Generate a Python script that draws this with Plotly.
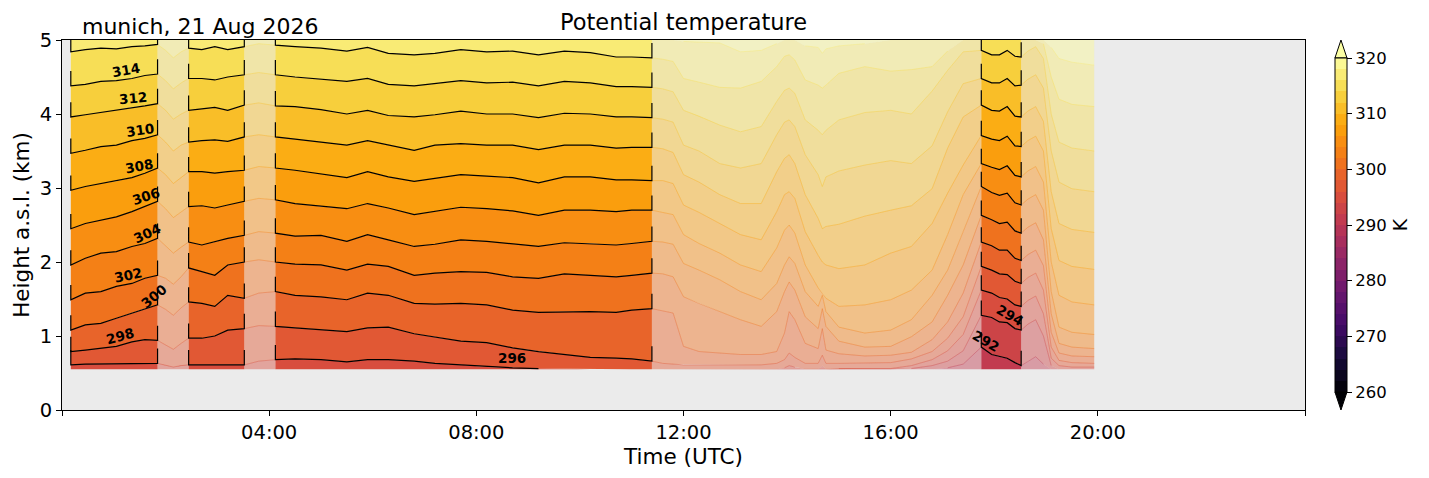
import numpy as np
import plotly.graph_objects as go

# hours (UTC) of the profiles
TIMES = [
    0.17, 0.45, 0.75, 1.05, 1.35, 1.6, 1.845,
    2.0, 2.15, 2.3,
    2.445, 2.7, 2.95, 3.2, 3.52,
    3.8,
    4.12, 4.5, 5.0, 5.5, 5.9, 6.3, 6.8, 7.2, 7.7, 8.2, 8.7, 9.2, 9.7, 10.2, 10.7, 11.0, 11.39,
    11.6, 11.8, 12.0, 12.3, 12.7, 13.1, 13.5, 13.8, 13.95, 14.04, 14.15, 14.35, 14.6, 14.68, 14.75,
    15.0, 15.5, 16.0, 16.4, 16.8, 17.1, 17.4,
    17.75, 17.95, 18.1, 18.25, 18.4, 18.52,
    18.65, 18.8, 18.95, 19.1, 19.25, 19.5, 19.93,
]

# (start, end, good quality) - bad periods are drawn faded
QUALITY = [
    (0.17, 1.845, True), (1.845, 2.445, False), (2.445, 3.52, True), (3.52, 4.12, False),
    (4.12, 11.39, True), (11.39, 17.75, False), (17.75, 18.52, True), (18.52, 19.93, False),
]

# height (km a.s.l.) of each isentrope, clipped to the retrieval range 0.55 - 5 km
ISEN_318 = [
    5.0, 5.0, 5.0, 5.0, 5.0, 5.0, 5.0,
    5.0, 5.0, 5.0,
    5.0, 5.0, 5.0, 5.0, 5.0,
    5.0,
    5.0, 5.0, 5.0, 5.0, 5.0, 5.0, 5.0, 5.0, 5.0, 5.0, 5.0, 5.0, 5.0, 5.0, 5.0, 5.0, 5.0,
    5.0, 5.0, 4.98, 4.97, 4.96, 4.84, 4.86, 4.95, 5.0, 5.0, 5.0, 4.92, 4.90, 4.82, 4.88,
    4.92, 4.95, 5.0, 5.0, 5.0, 5.0, 5.0,
    5.0, 5.0, 5.0, 5.0, 5.0, 5.0,
    5.0, 5.0, 5.0, 4.9, 4.75, 4.7, 4.66,
]
ISEN_316 = [
    4.84, 4.87, 4.89, 4.88, 4.91, 4.92, 4.94,
    4.86, 4.76, 4.84,
    4.89, 4.87, 4.91, 4.87, 4.91,
    4.95,
    4.93, 4.91, 4.89, 4.85, 4.90, 4.82, 4.80, 4.82, 4.87, 4.84, 4.85, 4.80, 4.85, 4.83, 4.77, 4.77, 4.76,
    4.74, 4.71, 4.48, 4.43, 4.36, 4.35, 4.44, 4.64, 4.78, 4.80, 4.73, 4.46, 4.39, 4.35, 4.39,
    4.55, 4.64, 4.58, 4.60, 4.64, 4.85, 5.0,
    5.0, 5.0, 5.0, 5.0, 5.0, 5.0,
    5.0, 5.0, 4.95, 4.5, 4.2, 4.13, 4.10,
]
ISEN_314 = [
    4.38, 4.40, 4.44, 4.45, 4.48, 4.52, 4.54,
    4.45, 4.34, 4.42,
    4.48, 4.48, 4.46, 4.50, 4.53,
    4.56,
    4.53, 4.50, 4.47, 4.44, 4.48, 4.40, 4.38, 4.41, 4.45, 4.42, 4.43, 4.38, 4.44, 4.42, 4.37, 4.37, 4.36,
    4.34, 4.30, 4.05, 3.97, 3.85, 3.76, 3.83, 4.17, 4.32, 4.35, 4.28, 3.92, 3.78, 3.72, 3.78,
    3.92, 4.02, 4.05, 4.00, 4.31, 4.59, 4.84,
    4.86, 4.80, 4.80, 4.86, 4.78, 4.77,
    4.85, 4.91, 4.75, 4.00, 3.62, 3.54, 3.50,
]
ISEN_312 = [
    3.96, 3.99, 4.02, 4.05, 4.09, 4.11, 4.14,
    4.05, 3.93, 4.00,
    4.05, 4.07, 4.09, 4.05, 4.12,
    4.15,
    4.11, 4.10, 4.06, 4.00, 4.05, 3.98, 3.96, 3.99, 4.04, 4.00, 4.00, 3.95, 4.01, 4.00, 3.96, 3.96, 3.95,
    3.93, 3.89, 3.58, 3.50, 3.33, 3.27, 3.33, 3.72, 3.89, 3.92, 3.83, 3.45, 3.18, 3.02, 3.15,
    3.23, 3.31, 3.37, 3.33, 3.57, 4.03, 4.41,
    4.48, 4.42, 4.42, 4.48, 4.38, 4.39,
    4.47, 4.53, 4.35, 3.50, 3.08, 2.99, 2.95,
]
ISEN_310 = [
    3.47, 3.51, 3.56, 3.58, 3.64, 3.67, 3.72,
    3.62, 3.50, 3.58,
    3.62, 3.64, 3.65, 3.63, 3.69,
    3.72,
    3.69, 3.66, 3.62, 3.58, 3.64, 3.58, 3.51, 3.58, 3.60, 3.58, 3.58, 3.52, 3.58, 3.58, 3.54, 3.55, 3.55,
    3.53, 3.48, 3.18, 3.08, 2.91, 2.79, 2.79, 3.22, 3.40, 3.45, 3.33, 2.91, 2.59, 2.45, 2.48,
    2.51, 2.62, 2.70, 2.76, 2.99, 3.54, 3.96,
    4.12, 4.05, 4.04, 4.10, 3.97, 3.96,
    4.04, 4.10, 3.90, 2.95, 2.52, 2.44, 2.40,
]
ISEN_308 = [
    2.97, 3.02, 3.06, 3.09, 3.14, 3.20, 3.27,
    3.18, 3.06, 3.14,
    3.22, 3.22, 3.20, 3.22, 3.24,
    3.29,
    3.27, 3.24, 3.19, 3.14, 3.22, 3.15, 3.09, 3.13, 3.18, 3.16, 3.14, 3.07, 3.15, 3.15, 3.11, 3.11, 3.10,
    3.10, 3.06, 2.77, 2.67, 2.52, 2.37, 2.30, 2.68, 2.91, 2.95, 2.86, 2.41, 2.09, 2.00, 1.96,
    1.91, 1.96, 2.12, 2.21, 2.52, 2.93, 3.31,
    3.71, 3.66, 3.64, 3.70, 3.57, 3.56,
    3.64, 3.70, 3.50, 2.45, 2.02, 1.94, 1.90,
]
ISEN_306 = [
    2.45, 2.52, 2.57, 2.61, 2.68, 2.75, 2.82,
    2.72, 2.60, 2.68,
    2.75, 2.76, 2.73, 2.77, 2.82,
    2.86,
    2.84, 2.79, 2.75, 2.72, 2.79, 2.73, 2.64, 2.68, 2.74, 2.72, 2.69, 2.63, 2.70, 2.70, 2.68, 2.70, 2.70,
    2.67, 2.64, 2.37, 2.25, 2.12, 1.96, 1.87, 2.19, 2.43, 2.50, 2.39, 1.96, 1.65, 1.58, 1.51,
    1.40, 1.42, 1.49, 1.62, 1.89, 2.37, 2.91,
    3.33, 3.28, 3.25, 3.30, 3.17, 3.15,
    3.23, 3.29, 3.08, 2.00, 1.55, 1.46, 1.42,
]
ISEN_304 = [
    1.96, 2.05, 2.12, 2.14, 2.21, 2.25, 2.32,
    2.22, 2.12, 2.20,
    2.27, 2.23, 2.27, 2.32, 2.36,
    2.41,
    2.39, 2.35, 2.36, 2.28, 2.37, 2.30, 2.21, 2.24, 2.30, 2.28, 2.24, 2.21, 2.26, 2.25, 2.23, 2.25, 2.28,
    2.27, 2.24, 1.98, 1.89, 1.76, 1.60, 1.49, 1.71, 1.96, 2.07, 1.98, 1.60, 1.40, 1.55, 1.33,
    1.12, 1.04, 1.08, 1.22, 1.55, 1.89, 2.41,
    3.02, 2.94, 2.90, 2.93, 2.80, 2.77,
    2.85, 2.91, 2.70, 1.60, 1.12, 1.05, 1.02,
]
ISEN_302 = [
    1.49, 1.58, 1.60, 1.67, 1.71, 1.78, 1.82,
    1.78, 1.70, 1.80,
    1.92, 1.87, 1.82, 1.96, 2.00,
    2.03,
    2.00, 1.97, 1.96, 1.89, 1.97, 1.94, 1.82, 1.85, 1.87, 1.86, 1.80, 1.78, 1.84, 1.82, 1.80, 1.82, 1.85,
    1.84, 1.80, 1.53, 1.44, 1.33, 1.22, 1.13, 1.33, 1.60, 1.73, 1.62, 1.26, 1.10, 1.37, 1.13,
    0.93, 0.85, 0.86, 0.99, 1.19, 1.55, 1.96,
    2.63, 2.57, 2.52, 2.54, 2.42, 2.39,
    2.47, 2.53, 2.30, 1.30, 0.90, 0.85, 0.83,
]
ISEN_300 = [
    1.08, 1.15, 1.17, 1.24, 1.31, 1.37, 1.42,
    1.36, 1.28, 1.38,
    1.46, 1.44, 1.40, 1.55, 1.51,
    1.58,
    1.60, 1.55, 1.53, 1.49, 1.58, 1.55, 1.44, 1.43, 1.44, 1.42, 1.35, 1.32, 1.33, 1.33, 1.32, 1.35, 1.37,
    1.34, 1.31, 0.86, 0.79, 0.77, 0.75, 0.75, 0.79, 1.04, 1.33, 1.22, 0.90, 0.83, 1.10, 0.81,
    0.76, 0.73, 0.74, 0.78, 0.95, 1.19, 1.58,
    2.27, 2.22, 2.16, 2.16, 2.05, 2.02,
    2.10, 2.16, 1.95, 1.05, 0.77, 0.73, 0.72,
]
ISEN_298 = [
    0.79, 0.81, 0.83, 0.86, 0.92, 0.95, 0.94,
    0.88, 0.82, 0.90,
    0.97, 0.97, 1.00, 1.08, 1.10,
    1.14,
    1.13, 1.11, 1.09, 1.06, 1.11, 1.12, 1.03, 0.99, 0.93, 0.91, 0.84, 0.79, 0.75, 0.71, 0.70, 0.69, 0.66,
    0.63, 0.62, 0.61, 0.61, 0.61, 0.61, 0.61, 0.63, 0.68, 0.77, 0.71, 0.63, 0.63, 0.74, 0.63,
    0.63, 0.63, 0.64, 0.69, 0.79, 0.97, 1.26,
    1.94, 1.89, 1.84, 1.83, 1.74, 1.71,
    1.79, 1.85, 1.62, 0.85, 0.67, 0.64, 0.63,
]
ISEN_296 = [
    0.61, 0.62, 0.62, 0.63, 0.63, 0.63, 0.63,
    0.60, 0.58, 0.60,
    0.61, 0.61, 0.61, 0.61, 0.61,
    0.66,
    0.68, 0.69, 0.68, 0.65, 0.68, 0.68, 0.66, 0.63, 0.61, 0.58, 0.57, 0.56, 0.55, 0.55, 0.55, 0.55, 0.55,
    0.55, 0.55, 0.55, 0.55, 0.55, 0.55, 0.55, 0.55, 0.57, 0.60, 0.58, 0.55, 0.55, 0.60, 0.55,
    0.56, 0.56, 0.56, 0.60, 0.68, 0.80, 1.02,
    1.62, 1.58, 1.52, 1.50, 1.42, 1.40,
    1.48, 1.54, 1.30, 0.70, 0.60, 0.58, 0.58,
]
ISEN_294 = [
    0.55, 0.55, 0.55, 0.55, 0.55, 0.55, 0.55,
    0.55, 0.55, 0.55,
    0.55, 0.55, 0.55, 0.55, 0.55,
    0.55,
    0.55, 0.55, 0.55, 0.55, 0.55, 0.55, 0.55, 0.55, 0.55, 0.55, 0.55, 0.55, 0.55, 0.55, 0.55, 0.55, 0.55,
    0.55, 0.55, 0.55, 0.55, 0.55, 0.55, 0.55, 0.55, 0.55, 0.55, 0.55, 0.55, 0.55, 0.55, 0.55,
    0.55, 0.55, 0.55, 0.56, 0.60, 0.66, 0.80,
    1.28, 1.25, 1.19, 1.18, 1.10, 1.08,
    1.16, 1.22, 1.00, 0.60, 0.55, 0.55, 0.55,
]
ISEN_292 = [
    0.55, 0.55, 0.55, 0.55, 0.55, 0.55, 0.55,
    0.55, 0.55, 0.55,
    0.55, 0.55, 0.55, 0.55, 0.55,
    0.55,
    0.55, 0.55, 0.55, 0.55, 0.55, 0.55, 0.55, 0.55, 0.55, 0.55, 0.55, 0.55, 0.55, 0.55, 0.55, 0.55, 0.55,
    0.55, 0.55, 0.55, 0.55, 0.55, 0.55, 0.55, 0.55, 0.55, 0.55, 0.55, 0.55, 0.55, 0.55, 0.55,
    0.55, 0.55, 0.55, 0.55, 0.55, 0.57, 0.62,
    0.85, 0.75, 0.72, 0.70, 0.64, 0.60,
    0.66, 0.72, 0.62, 0.55, 0.55, 0.55, 0.55,
]

# contour labels: (isentrope, time, rotation)
LABEL_SPOTS = [
    (314, 1.23, -10), (312, 1.37, -5), (310, 1.51, -8), (308, 1.49, -10), (306, 1.63, -18),
    (304, 1.65, -25), (302, 1.28, -12), (300, 1.78, -40), (298, 1.12, -15), (296, 8.68, 0),
    (294, 18.30, 30), (292, 17.84, 30),
]

BOTTOM, TOP = 0.55, 5.0
LEVELS = [292, 294, 296, 298, 300, 302, 304, 306, 308, 310, 312, 314, 316, 318]
ISEN = {
    292: ISEN_292, 294: ISEN_294, 296: ISEN_296, 298: ISEN_298, 300: ISEN_300,
    302: ISEN_302, 304: ISEN_304, 306: ISEN_306, 308: ISEN_308, 310: ISEN_310,
    312: ISEN_312, 314: ISEN_314, 316: ISEN_316, 318: ISEN_318,
}
for lev, vals in ISEN.items():
    assert len(vals) == len(TIMES), lev

FADE = 0.45
HOOK = 0.2
FONT = "DejaVu Sans"

INFERNO = ["#000004", "#160b39", "#420a68", "#6a176e", "#932667", "#bc3754",
           "#dd513a", "#f37819", "#fca50a", "#f6d746", "#fcffa4"]


def inferno(frac, alpha=1.0):
    frac = min(max(frac, 0.0), 1.0) * 10
    i = min(int(frac), 9)
    f = frac - i
    c0 = [int(INFERNO[i][k:k + 2], 16) for k in (1, 3, 5)]
    c1 = [int(INFERNO[i + 1][k:k + 2], 16) for k in (1, 3, 5)]
    r, g, b = [round(p + (q - p) * f) for p, q in zip(c0, c1)]
    return f"rgba({r},{g},{b},{alpha})"


def theta_color(theta, alpha=1.0):
    return inferno((theta - 260) / 60, alpha)


t = np.array(TIMES)
n = len(t)
bounds = [np.full(n, BOTTOM)] + [np.array(ISEN[lev]) for lev in LEVELS] + [np.full(n, TOP)]

fig = go.Figure()

# filled bands: faded for bad periods, opaque for good ones
for solid in (False, True):
    for k in range(len(bounds) - 1):
        lo, hi = bounds[k], bounds[k + 1]
        xs, ys = [], []
        for a, b, good in QUALITY:
            if good != solid:
                continue
            m = (t >= a - 1e-9) & (t <= b + 1e-9)
            if np.all(hi[m] - lo[m] <= 1e-9):
                continue
            xs += list(t[m]) + list(t[m][::-1]) + [None]
            ys += list(hi[m]) + list(lo[m][::-1]) + [None]
        if not xs:
            continue
        fig.add_trace(go.Scatter(
            x=xs, y=ys, mode="lines", fill="toself",
            fillcolor=theta_color(291 + 2 * k, 1.0 if solid else FADE),
            line=dict(width=0), hoverinfo="skip", showlegend=False))

# thin edges of the faded bands
for lev in LEVELS:
    h = np.array(ISEN[lev])
    xs, ys = [], []
    for a, b, good in QUALITY:
        if good:
            continue
        m = (t >= a - 1e-9) & (t <= b + 1e-9)
        for ti, hv in zip(t[m], h[m]):
            if BOTTOM < hv < TOP:
                xs.append(ti)
                ys.append(hv)
            else:
                xs.append(None)
                ys.append(None)
        xs.append(None)
        ys.append(None)
    fig.add_trace(go.Scatter(
        x=xs, y=ys, mode="lines", line=dict(color=theta_color(lev - 1, 0.55), width=0.8),
        hoverinfo="skip", showlegend=False))

# black isentropes on the good periods
for lev in LEVELS:
    h = np.array(ISEN[lev])
    xs, ys = [], []
    for a, b, good in QUALITY:
        if not good:
            continue
        m = (t >= a - 1e-9) & (t <= b + 1e-9)
        ts, hs = t[m], h[m]
        if BOTTOM < hs[0] < TOP:
            xs.append(ts[0])
            ys.append(hs[0] + HOOK)
        for ti, hv in zip(ts, hs):
            if BOTTOM < hv < TOP:
                xs.append(ti)
                ys.append(hv)
            else:
                xs.append(None)
                ys.append(None)
        if BOTTOM < hs[-1] < TOP:
            xs.append(ts[-1])
            ys.append(hs[-1] + HOOK)
        xs.append(None)
        ys.append(None)
    fig.add_trace(go.Scatter(
        x=xs, y=ys, mode="lines", line=dict(color="black", width=1.2),
        hoverinfo="skip", showlegend=False))

# colour bar (30 discrete steps, 260-320 K)
cb_scale = []
for j in range(30):
    c = theta_color(261 + 2 * j)
    cb_scale += [[j / 30, c], [(j + 1) / 30, c]]
fig.add_trace(go.Scatter(
    x=[-1], y=[-1], mode="markers", hoverinfo="skip", showlegend=False,
    marker=dict(size=1, color=[290], colorscale=cb_scale, cmin=260, cmax=320, showscale=True,
                colorbar=dict(thickness=12, len=0.903, lenmode="fraction", y=0.5, yanchor="middle",
                              x=1.0241, xanchor="left", xpad=0, ypad=0,
                              outlinewidth=1, outlinecolor="black",
                              tickvals=list(range(260, 321, 10)), ticks="outside", ticklen=5,
                              tickcolor="black", tickfont=dict(size=16.5, family=FONT),
                              title=dict(text="K", side="right", font=dict(size=19, family=FONT))))))

# extend triangles of the colour bar
cx0, cx1 = 1.0241, 1.0241 + 12 / 1243
cxm = (cx0 + cx1) / 2
shapes = [
    dict(type="path", xref="paper", yref="paper",
         path=f"M {cx0},0.9515 L {cx1},0.9515 L {cxm},1.0 Z",
         fillcolor=theta_color(330), line=dict(color="black", width=1)),
    dict(type="path", xref="paper", yref="paper",
         path=f"M {cx0},0.0485 L {cx1},0.0485 L {cxm},0.0 Z",
         fillcolor=theta_color(250), line=dict(color="black", width=1)),
]

annotations = [
    dict(text="Potential temperature", xref="paper", yref="paper", x=0.5, y=1,
         xanchor="center", yanchor="middle", yshift=18, showarrow=False,
         font=dict(size=22.5, family=FONT, color="black")),
    dict(text="munich, 21 Aug 2026", xref="paper", yref="paper", x=0.0145, y=1,
         xanchor="left", yanchor="middle", yshift=14, showarrow=False,
         font=dict(size=22, family=FONT, color="black")),
]
for lev, tl, ang in LABEL_SPOTS:
    annotations.append(dict(
        text=f"<b>{lev}</b>", x=tl, y=float(np.interp(tl, TIMES, ISEN[lev])) + 0.13,
        xref="x", yref="y", showarrow=False, textangle=ang,
        font=dict(size=13.5, family=FONT, color="black")))

# the page puts the figure 8 px in from the top-left corner
fig.update_layout(
    width=1421, height=470,
    margin=dict(l=54, r=124, t=32, b=68),
    paper_bgcolor="white", plot_bgcolor="#ebebeb",
    font=dict(family=FONT, color="black"),
    showlegend=False,
    shapes=shapes,
    annotations=annotations,
    xaxis=dict(range=[0, 24], tickvals=[0, 4, 8, 12, 16, 20, 24],
               ticktext=["", "04:00", "08:00", "12:00", "16:00", "20:00", ""],
               ticks="outside", ticklen=5, tickwidth=1, tickcolor="black",
               showline=True, linecolor="black", linewidth=1, mirror=True,
               showgrid=False, zeroline=False, tickfont=dict(size=19.5),
               title=dict(text="Time (UTC)", font=dict(size=21.5), standoff=4)),
    yaxis=dict(range=[0, 5], tickvals=[0, 1, 2, 3, 4, 5],
               ticks="outside", ticklen=5, tickwidth=1, tickcolor="black",
               showline=True, linecolor="black", linewidth=1, mirror=True,
               showgrid=False, zeroline=False, tickfont=dict(size=19.5),
               title=dict(text="Height a.s.l. (km)", font=dict(size=21.5), standoff=4)),
)

fig.write_html("out.html")
